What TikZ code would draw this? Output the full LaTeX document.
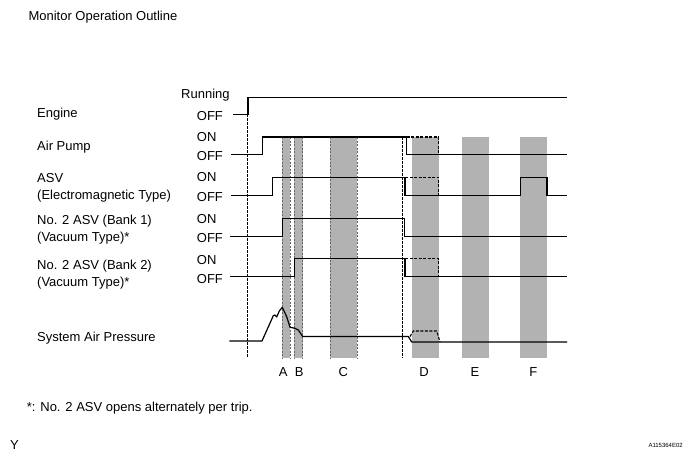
\documentclass[tikz,border=0pt]{standalone}
\usepackage{fontspec}
\setmainfont{Liberation Sans}
\begin{document}
\begin{tikzpicture}[x=1pt,y=-1pt,
  lbl/.style={anchor=base west,inner sep=0pt,font=\fontsize{13}{15}\selectfont},
  bandlbl/.style={anchor=base,inner sep=0pt,font=\fontsize{13}{15}\selectfont},
  sig/.style={line width=1.2pt,line join=miter},
  sigdash/.style={line width=1.1pt,dash pattern=on 3pt off 1.5pt},
  guide/.style={line width=0.6pt,dash pattern=on 2.5pt off 1.5pt},
  band/.style={fill=black!30},
  bandedge/.style={line width=0.5pt,black!60,dash pattern=on 2pt off 1.5pt}]
\useasboundingbox (0,0) rectangle (693,458);

% shaded bands
\foreach \a/\b in {282/290,294/302.5,330.3/357,411.5/438.5,462/489,520/547}
  \fill[band] (\a,137) rectangle (\b,358);
\foreach \a in {282,290,294,302.5,330.3,357}
  \draw[bandedge] (\a,137) -- (\a,358);

% guide lines
\draw[guide] (247.5,114.3) -- (247.5,358);
\draw[guide] (402.5,137) -- (402.5,358);

% texts
\node[lbl] (title) at (28.3,20.6) {Monitor Operation Outline};
\node[lbl] (run) at (181,98.9) {Running};
\node[lbl] (eng) at (37,117.3) {Engine};
\node[lbl] (engoff) at (196.7,120.6) {OFF};
\node[lbl] (ap) at (37,150.3) {Air Pump};
\node[lbl] (apon) at (196.7,141.9) {ON};
\node[lbl] (apoff) at (196.7,160.6) {OFF};
\node[lbl] (asv) at (37,182.3) {ASV};
\node[lbl] (asv2) at (37,199.6) {(Electromagnetic Type)};
\node[lbl] (asvon) at (196.7,181.9) {ON};
\node[lbl] (asvoff) at (196.7,201.9) {OFF};
\node[lbl] (b1) at (37,224.6) {No. 2 ASV (Bank 1)};
\node[lbl] (b1b) at (37,241.3) {(Vacuum Type)*};
\node[lbl] (b1on) at (196.7,223.9) {ON};
\node[lbl] (b1off) at (196.7,242.9) {OFF};
\node[lbl] (b2) at (37,269.6) {No. 2 ASV (Bank 2)};
\node[lbl] (b2b) at (37,286.3) {(Vacuum Type)*};
\node[lbl] (b2on) at (196.7,264.6) {ON};
\node[lbl] (b2off) at (196.7,283) {OFF};
\node[lbl] (sap) at (37,341.6) {System Air Pressure};
\node[bandlbl] (la) at (283.3,376.3) {A};
\node[bandlbl] (lb) at (299.3,376.3) {B};
\node[bandlbl] (lc) at (343.3,376.3) {C};
\node[bandlbl] (ld) at (424,376.3) {D};
\node[bandlbl] (le) at (475,376.3) {E};
\node[bandlbl] (lf) at (533.3,376.3) {F};
\node[lbl] (note) at (26.7,411.9) {*: No. 2 ASV opens alternately per trip.};
\node[lbl] (y) at (10,449.6) {Y};
\node[anchor=base west,inner sep=0pt,font=\fontsize{6}{7}\selectfont] (code) at (648.3,447.2) {A115364E02};

% Engine
\draw[sig] (233,114.3) -- (248,114.3) -- (248,97.3) -- (567,97.3);
% Air pump
\draw[sig] (231,154.5) -- (262.3,154.5) -- (262.3,137) -- (406.5,137) -- (406.5,154.5) -- (567,154.5);
\draw[sigdash] (406.5,137) -- (438.5,137) -- (438.5,154.5);
% ASV
\draw[sig] (231,195.5) -- (272.7,195.5) -- (272.7,177.2) -- (405,177.2) -- (405,195.5) -- (520.5,195.5) -- (520.5,177.2) -- (547,177.2) -- (547,195.5) -- (567,195.5);
\draw[sigdash] (405,177.2) -- (438.5,177.2) -- (438.5,195.5);
% Bank 1
\draw[sig] (230,236.5) -- (282.7,236.5) -- (282.7,218.3) -- (404.3,218.3) -- (404.3,236.5) -- (567,236.5);
% Bank 2
\draw[sig] (230,276.5) -- (294.3,276.5) -- (294.3,258.7) -- (405,258.7) -- (405,276.5) -- (567,276.5);
\draw[sigdash] (405,258.7) -- (438.5,258.7) -- (438.5,276.5);
% System air pressure
\draw[sig,line join=round] (229.3,341) -- (262,341) -- (273.3,315.7) -- (275,315) -- (276.7,317) -- (279.3,311) -- (282.3,307.3) -- (286.7,316.7) -- (290,327.3) -- (295,328.3) -- (298.3,330) -- (302.7,336.5) -- (408.3,336.5) -- (411.7,342) -- (567,342);
\draw[sigdash,line join=round] (410,336.5) -- (413.3,331) -- (436.7,331) -- (440,342);
\end{tikzpicture}
\end{document}
